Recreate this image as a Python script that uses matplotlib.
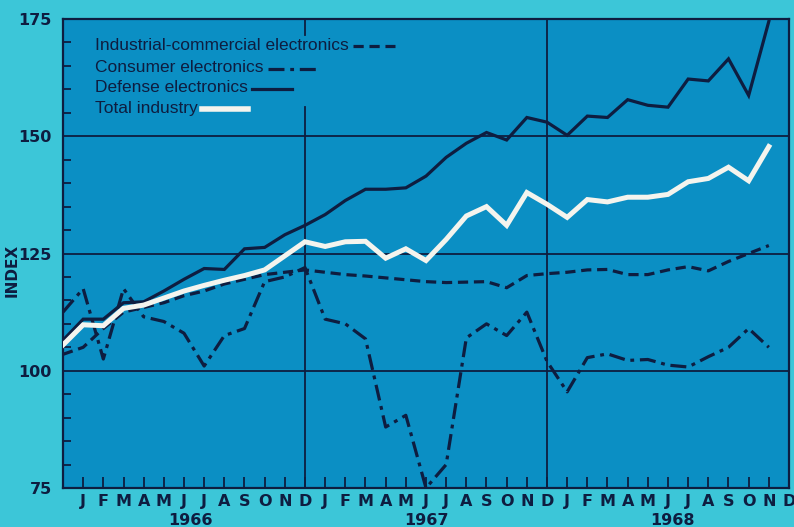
import numpy as np
import matplotlib
matplotlib.use("Agg")
import matplotlib.pyplot as plt

# Monthly index values, Dec 1965 .. Nov 1968 (index 0 = Dec 1965)
industrial = [103.5, 105, 109, 112.5, 113.5, 114.5, 116, 117, 118.5, 119.5, 120.5, 121,
              121.5, 121, 120.5, 120.2, 119.8, 119.4, 119, 118.8, 118.9, 119, 117.7, 120.3,
              120.7, 121, 121.5, 121.6, 120.5, 120.5, 121.5, 122.2, 121.3, 123.3, 125, 126.7]
consumer = [112.5, 117.5, 102.5, 117.5, 111.5, 110.5, 108, 101, 107.5, 109, 119, 120,
            122, 111, 110, 106.8, 88, 90.5, 75, 80, 107, 110, 107.5, 112.5,
            102, 95.5, 102.8, 103.6, 102.2, 102.4, 101.2, 100.8, 103, 105, 109, 105]
defense = [106.5, 111, 111, 114.5, 114.7, 117, 119.5, 121.8, 121.6, 126, 126.3, 129,
           131, 133.3, 136.3, 138.7, 138.7, 139, 141.5, 145.5, 148.5, 150.8, 149.2, 154,
           153, 150.2, 154.3, 154, 157.8, 156.6, 156.2, 162.2, 161.8, 166.5, 158.7, 174.5]
total = [105.5, 109.8, 109.6, 113.3, 114, 115.5, 117, 118.2, 119.3, 120.3, 121.5, 124.5,
         127.5, 126.5, 127.5, 127.6, 124, 126, 123.5, 128, 133, 135, 131, 138,
         135.5, 132.7, 136.5, 136, 137, 137, 137.6, 140.3, 141, 143.4, 140.5, 147.8]
month_letters = list("JFMAMJJASOND") * 3
years = ["1966", "1967", "1968"]

outer = "#3cc6d8"
inner = "#0b8fc4"
ink = "#0e1d40"

fig = plt.figure(figsize=(7.94, 5.27), dpi=100, facecolor=outer)
ax = fig.add_axes([63 / 794, 1 - 488 / 527, 726 / 794, 469 / 527])
ax.set_facecolor(inner)

k = np.arange(len(total))

# grid
for v in [100, 125, 150]:
    ax.axhline(v, color=ink, lw=1.3, zorder=1)
ax.axvline(12, ymax=0.812, color=ink, lw=1.3, zorder=1)
ax.axvline(12, ymin=0.966, color=ink, lw=1.3, zorder=1)
ax.axvline(24, color=ink, lw=1.3, zorder=1)

ax.plot(k, defense, color=ink, lw=2.3, zorder=3, solid_joinstyle="miter")
ax.plot(k, industrial, color=ink, lw=2.3, dashes=(3.2, 1.8), zorder=3)
ax.plot(k, consumer, color=ink, lw=2.3, dashes=(5, 1.8, 1.2, 1.8), zorder=3)
ax.plot(k, total, color="#f4f4ee", lw=3.6, zorder=4, solid_joinstyle="miter")

ax.set_xlim(0, 36)
ax.set_ylim(75, 175)

for s in ax.spines.values():
    s.set_color(ink)
    s.set_linewidth(1.6)

ax.set_yticks([75, 100, 125, 150, 175])
ax.set_yticks(np.arange(75, 176, 5), minor=True)
ax.tick_params(axis="y", which="major", length=0, pad=8, labelsize=11.5, labelcolor=ink)
ax.tick_params(axis="y", which="minor", direction="in", length=6, width=1.3, color=ink)
for t in ax.get_yticklabels():
    t.set_fontweight("bold")

ax.set_xticks(np.arange(1, 37))
ax.set_xticklabels(month_letters, fontweight="bold", fontsize=11.5, color=ink)
ax.tick_params(axis="x", direction="in", length=8, width=1.3, color=ink, pad=4)

for x, yr in zip([6.3, 18, 30.2], years):
    ax.text(x, -0.07, yr, transform=ax.get_xaxis_transform(), ha="center", va="center",
            fontsize=11.5, fontweight="bold", color=ink)

fig.text(12 / 794, 1 - 270 / 527, "INDEX", rotation=90, ha="center", va="center",
         fontsize=11, fontweight="bold", color=ink)

# legend drawn as text with line samples right after the text
leg = [("Industrial-commercial electronics", 45, dict(dashes=(3.2, 1.8)), 42, ink, 2.3),
       ("Consumer electronics", 68, dict(dashes=(5, 1.8, 1.2, 1.8)), 48, ink, 2.3),
       ("Defense electronics", 88, dict(), 40, ink, 2.3),
       ("Total industry", 108, dict(), 46, "#f4f4ee", 4.0)]
renderer = fig.canvas.get_renderer()
for label, ypx, style, length, col, lw in leg:
    t = fig.text(95 / 794, 1 - ypx / 527, label, ha="left", va="center", fontsize=12.5,
                 family="Liberation Sans", color=ink)
    x0 = t.get_window_extent(renderer).x1 + 4
    fig.add_artist(plt.Line2D([x0 / 794, (x0 + length) / 794], [1 - (ypx + 1) / 527] * 2,
                              color=col, lw=lw, **style))

fig.savefig("out.png", dpi=100, facecolor=outer)
